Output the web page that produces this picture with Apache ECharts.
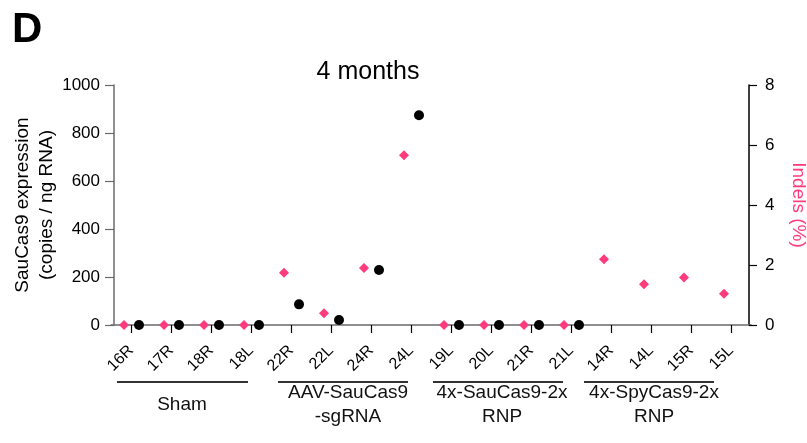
<!DOCTYPE html>
<html>
<head>
<meta charset="utf-8">
<script src="https://cdn.jsdelivr.net/npm/echarts@6/dist/echarts.min.js"></script>
<style>
html,body{margin:0;padding:0;background:#fff;}
#chart{width:807px;height:443px;}
</style>
</head>
<body>
<div id="chart"></div>
<script>
// ---- data ----
var categories = ['16R','17R','18R','18L','22R','22L','24R','24L','19L','20L','21R','21L','14R','14L','15R','15L'];
var sauCas9Expression = [0, 0, 0, 0, 86, 21, 229, 874, 0, 0, 0, 0, null, null, null, null];
var indelsPercent = [0, 0, 0, 0, 1.74, 0.39, 1.9, 5.66, 0, 0, 0, 0, 2.19, 1.36, 1.58, 1.04];
var leftTicks = [0, 200, 400, 600, 800, 1000];
var rightTicks = [0, 2, 4, 6, 8];
var groupNames = ['Sham', 'AAV-SauCas9\n-sgRNA', '4x-SauCas9-2x\nRNP', '4x-SpyCas9-2x\nRNP'];

// ---- layout ----
var FONT = '"Liberation Sans", Arial, Helvetica, sans-serif';
var PINK = '#ff3b7c';
var GRAY = '#6b6b6b';
var groupLayout = [
  {x1: 117, x2: 248, cx: 182},
  {x1: 278, x2: 408, cx: 348},
  {x1: 433, x2: 563, cx: 502},
  {x1: 584, x2: 714, cx: 654}
];

var chart = echarts.init(document.getElementById('chart'), null, {renderer: 'canvas'});

var graphics = [
  {type: 'text', left: 12, top: 9, style: {text: 'D', font: 'bold 42px ' + FONT, fill: '#000'}},
  {type: 'text', x: 368, y: 72, style: {text: '4 months', font: '25px ' + FONT, fill: '#000', textAlign: 'center', textVerticalAlign: 'middle'}}
];
groupLayout.forEach(function (g, i) {
  graphics.push({type: 'line', shape: {x1: g.x1, y1: 382, x2: g.x2, y2: 382}, style: {stroke: '#333', lineWidth: 1.8}});
  graphics.push({type: 'text', x: g.cx, y: 405, style: {text: groupNames[i], font: '19px ' + FONT, fill: '#111', textAlign: 'center', textVerticalAlign: 'middle', lineHeight: 24}});
});

var option = {
  animation: false,
  backgroundColor: '#fff',
  textStyle: {fontFamily: FONT},
  grid: {left: 111, right: 56, top: 85, bottom: 118, containLabel: false, outerBoundsMode: 'none'},
  xAxis: {
    type: 'category',
    data: categories,
    boundaryGap: true,
    axisLine: {show: true, onZero: false, lineStyle: {color: GRAY, width: 1.5}},
    axisTick: {show: true, alignWithLabel: true, length: 8, lineStyle: {color: '#000', width: 1.2}},
    axisLabel: {interval: 0, rotate: 45, margin: 23, fontSize: 16, color: '#000', fontFamily: FONT},
    splitLine: {show: false}
  },
  yAxis: [
    {
      type: 'value',
      min: leftTicks[0], max: leftTicks[leftTicks.length - 1], interval: leftTicks[1] - leftTicks[0],
      offset: -3,
      name: 'SauCas9 expression\n(copies / ng RNA)',
      nameLocation: 'middle',
      nameGap: 55,
      nameMoveOverlap: false,
      nameTextStyle: {fontSize: 19, color: '#000', lineHeight: 24, fontFamily: FONT},
      axisLine: {show: true, lineStyle: {color: GRAY, width: 1.5}},
      axisTick: {show: true, length: 9, lineStyle: {color: GRAY, width: 1.2}},
      axisLabel: {margin: 14, fontSize: 17, color: '#000', fontFamily: FONT, formatter: function (v) { return String(v); }},
      splitLine: {show: false}
    },
    {
      type: 'value',
      position: 'right',
      min: rightTicks[0], max: rightTicks[rightTicks.length - 1], interval: rightTicks[1] - rightTicks[0],
      offset: -2,
      name: 'Indels (%)',
      nameLocation: 'middle',
      nameRotate: -90,
      nameGap: 40,
      nameMoveOverlap: false,
      nameTextStyle: {fontSize: 19, color: PINK, fontFamily: FONT},
      axisLine: {show: true, lineStyle: {color: '#000', width: 1.5}},
      axisTick: {show: true, length: 8, lineStyle: {color: '#000', width: 1.2}},
      axisLabel: {margin: 16, fontSize: 17, color: '#000', fontFamily: FONT, formatter: function (v) { return String(v); }},
      splitLine: {show: false}
    }
  ],
  series: [
    {
      name: 'Indels',
      type: 'scatter',
      yAxisIndex: 1,
      data: indelsPercent,
      symbol: 'diamond',
      symbolSize: 10,
      symbolOffset: [-7, 0],
      clip: false,
      itemStyle: {color: PINK, opacity: 1},
      z: 3
    },
    {
      name: 'SauCas9 expression',
      type: 'scatter',
      yAxisIndex: 0,
      data: sauCas9Expression,
      symbol: 'circle',
      symbolSize: 10,
      symbolOffset: [8, 0],
      clip: false,
      itemStyle: {color: '#000', opacity: 1},
      z: 4
    }
  ],
  graphic: graphics
};
chart.setOption(option);
</script>
</body>
</html>
